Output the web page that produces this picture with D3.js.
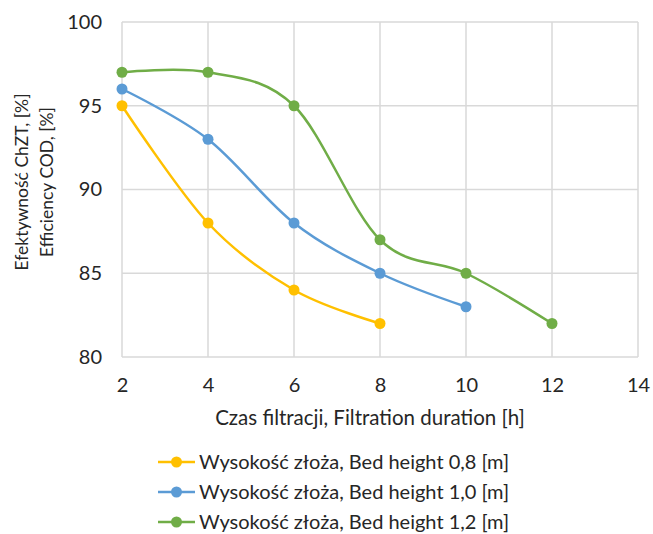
<!DOCTYPE html>
<html>
<head>
<meta charset="utf-8">
<script src="https://cdn.jsdelivr.net/npm/d3@7"></script>
<style>
  body { margin: 0; background: #fff; }
  text { font-family: Lato, "Open Sans", sans-serif; fill: #262626; }
</style>
</head>
<body>
<div id="chart"></div>
<script>
// data
var xTicks = [2, 4, 6, 8, 10, 12, 14];
var yTicks = [80, 85, 90, 95, 100];

var seriesNames = [
    "Wysokość złoża, Bed height 0,8 [m]",
    "Wysokość złoża, Bed height 1,0 [m]",
    "Wysokość złoża, Bed height 1,2 [m]"
];
var seriesColors = ["#FFC000", "#5B9BD5", "#70AD47"];

var hours08 = [2, 4, 6, 8];
var eff08 = [95, 88, 84, 82];
var hours10 = [2, 4, 6, 8, 10];
var eff10 = [96, 93, 88, 85, 83];
var hours12 = [2, 4, 6, 8, 10, 12];
var eff12 = [97, 97, 95, 87, 85, 82];

var series = [
    d3.zip(hours08, eff08),
    d3.zip(hours10, eff10),
    d3.zip(hours12, eff12)
];

var width = 653, height = 534;
// plot box (note: "top" is taken by window.top, so use other names)
var plotL = 122, plotR = 638, plotT = 22, plotB = 357;

var svg = d3.select("#chart").append("svg")
    .attr("width", width)
    .attr("height", height);

var x = d3.scaleLinear().domain([2, 14]).range([plotL, plotR]);
var y = d3.scaleLinear().domain([80, 100]).range([plotB, plotT]);

// gridlines
svg.append("g").selectAll("line")
    .data(yTicks)
    .enter().append("line")
    .attr("x1", plotL).attr("x2", plotR)
    .attr("y1", d => y(d)).attr("y2", d => y(d))
    .attr("stroke", "#d9d9d9").attr("stroke-width", 1.5);

svg.append("g").selectAll("line")
    .data(xTicks)
    .enter().append("line")
    .attr("x1", d => x(d)).attr("x2", d => x(d))
    .attr("y1", plotT).attr("y2", plotB)
    .attr("stroke", "#d9d9d9").attr("stroke-width", 1.5);

// axes (labels only, lines are the grid)
var xAxis = svg.append("g")
    .attr("transform", "translate(0," + plotB + ")")
    .call(d3.axisBottom(x).tickValues(xTicks).tickSize(0).tickPadding(21));
xAxis.select(".domain").remove();
xAxis.selectAll("text").style("font-size", "20px").style("fill", "#262626")
    .style("font-family", "Lato, 'Open Sans', sans-serif");

var yAxis = svg.append("g")
    .attr("transform", "translate(" + plotL + ",0)")
    .call(d3.axisLeft(y).tickValues(yTicks).tickSize(0).tickPadding(20));
yAxis.select(".domain").remove();
yAxis.selectAll("text").style("font-size", "20px").style("fill", "#262626")
    .style("font-family", "Lato, 'Open Sans', sans-serif");

// titles
svg.append("text")
    .attr("x", (plotL + plotR) / 2 - 10)
    .attr("y", 425)
    .attr("text-anchor", "middle")
    .style("font-size", "20.5px")
    .text("Czas filtracji, Filtration duration [h]");

var yTitle = svg.append("text")
    .attr("transform", "translate(28,182) rotate(-90)")
    .attr("text-anchor", "middle")
    .style("font-size", "17.5px");
yTitle.append("tspan").attr("x", 0).attr("dy", 0).text("Efektywność ChZT, [%]");
yTitle.append("tspan").attr("x", 0).attr("dy", 25).text("Efficiency COD, [%]");

// lines
var line = d3.line()
    .x(d => x(d[0]))
    .y(d => y(d[1]))
    .curve(d3.curveCatmullRom.alpha(0));

series.forEach(function(pts, i) {
    svg.append("path")
        .datum(pts)
        .attr("d", line)
        .attr("fill", "none")
        .attr("stroke", seriesColors[i])
        .attr("stroke-width", 2.5);
    svg.append("g").selectAll("circle")
        .data(pts)
        .enter().append("circle")
        .attr("cx", d => x(d[0]))
        .attr("cy", d => y(d[1]))
        .attr("r", 5.5)
        .attr("fill", seriesColors[i]);
});

// legend
var legend = svg.append("g");
seriesNames.forEach(function(name, i) {
    var ly = 462 + i * 30;
    legend.append("line")
        .attr("x1", 158).attr("x2", 195)
        .attr("y1", ly).attr("y2", ly)
        .attr("stroke", seriesColors[i]).attr("stroke-width", 2.5);
    legend.append("circle")
        .attr("cx", 176.5).attr("cy", ly).attr("r", 5.5)
        .attr("fill", seriesColors[i]);
    legend.append("text")
        .attr("x", 199).attr("y", ly + 7)
        .style("font-size", "20px")
        .text(name);
});
</script>
</body>
</html>
